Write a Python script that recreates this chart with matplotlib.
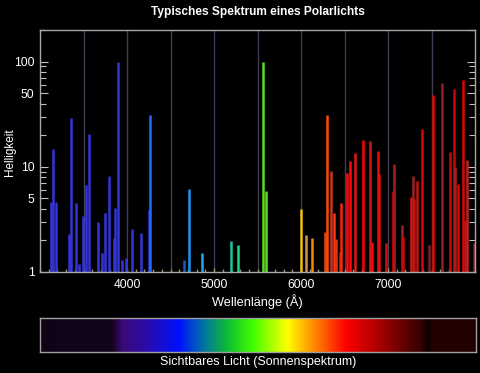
import matplotlib
matplotlib.use("Agg")
import matplotlib.pyplot as plt
import numpy as np
from matplotlib.colors import LinearSegmentedColormap
from matplotlib.ticker import FixedLocator, NullFormatter, MultipleLocator

plt.rcParams['font.family'] = ['Liberation Sans', 'DejaVu Sans']

# ---- data ----
wavelengths = [3127, 3145, 3184, 3337, 3357, 3414, 3452, 3490, 3530, 3568,
               3671, 3709, 3748, 3790, 3847, 3867, 3901, 3944, 3985, 4059,
               4163, 4250, 4266,
               4650, 4711, 4857, 5199, 5272, 5563, 5602, 6005, 6063, 6127,
               6281, 6300, 6350, 6377, 6408, 6446, 6465, 6534, 6561, 6619,
               6707, 6791, 6818, 6880, 6895, 6975, 7053, 7068, 7156, 7175,
               7260, 7283, 7298, 7329, 7393, 7474, 7513, 7624, 7712, 7758,
               7770, 7808, 7859, 7885, 7905, 7989]
intensities = [4.6, 14.9, 4.6, 2.3, 29.4, 4.5, 1.2, 3.4, 6.7, 20.7,
               3.0, 1.5, 3.6, 8.1, 2.1, 4.1, 100, 1.3, 1.37, 2.56,
               2.34, 3.9, 30.9,
               1.31, 6.1, 1.5, 1.96, 1.82, 100, 5.95, 3.94, 2.23, 2.1,
               2.4, 30.9, 9.1, 3.6, 2.07, 1.54, 4.5, 8.7, 11.3, 13.4,
               18.1, 17.6, 1.92, 14.1, 8.6, 1.88, 5.95, 10.7, 2.77, 2.15,
               5.15, 8.2, 4.97, 7.3, 23.1, 1.81, 48, 63, 13.8, 54.5,
               9.9, 6.8, 67.5, 3.1, 11.5, 1.88]
line_colors = (['#3434d8'] * 22 + ['#2468ff'] +
               ['#1a5cc0', '#1c94f0', '#20a8e8', '#14c8a0', '#18d888',
                '#58e020', '#60d830', '#f0c000', '#d09050', '#ff8400'] +
               ['#e04418', '#ff4800', '#c83420', '#ff3410', '#e03410', '#b03020',
                '#ff2410', '#ff0c0c', '#ff0c0c', '#e81414', '#ff0404', '#d01818',
                '#ff0404', '#ff0404', '#e01010', '#d01010', '#e00404', '#a02020',
                '#a02020', '#d00404', '#e01010', '#a02020', '#c81010', '#c01414',
                '#e00404', '#802020', '#e00404', '#902020', '#d00404', '#d00404',
                '#a02020', '#e00404', '#e00404', '#c01010', '#c02020', '#902020'])

x_ticks = [4000, 5000, 6000, 7000]
y_ticks = [1, 5, 10, 50, 100]
grid_lines = [3500, 4000, 4500, 5000, 5500, 6000, 6500, 7000, 7500]

# visible spectrum colour bar stops (fraction of bar width, colour)
spec_pos = [0.0, 0.163, 0.19, 0.24, 0.319, 0.372, 0.433, 0.488, 0.568,
            0.617, 0.702, 0.80, 0.878, 0.893, 0.899, 1.0]
spec_col = ['#0e0418', '#12041c', '#3c0a78', '#2c0ca8', '#0010ff', '#0070a8',
            '#10c030', '#40ff00', '#ffff00', '#ffa000', '#ff0000', '#900000',
            '#300000', '#000000', '#220000', '#220000']

# ---- figure ----
fig = plt.figure(figsize=(4.8, 3.73), dpi=100, facecolor='black')
ax = fig.add_axes([40/480, 1-272/373, 435/480, 242/373], facecolor='black')

for g in grid_lines:
    ax.axvline(g, color='#403c52', lw=1.0, zorder=1)

ax.vlines(wavelengths, 1, intensities, colors=line_colors, lw=1.8, zorder=2)

ax.set_yscale('log')
ax.set_xlim(3000, 8000)
ax.set_ylim(1, 200)
ax.yaxis.set_major_locator(FixedLocator(y_ticks))
ax.yaxis.set_major_formatter(plt.FixedFormatter([str(t) for t in y_ticks]))
ax.yaxis.set_minor_locator(FixedLocator([2, 3, 4, 6, 7, 8, 9, 20, 30, 40, 60, 70, 80, 90, 200]))
ax.yaxis.set_minor_formatter(NullFormatter())
ax.set_xticks(x_ticks)
ax.set_xticklabels([str(t) for t in x_ticks])
ax.xaxis.set_minor_locator(MultipleLocator(100))

ax.tick_params(axis='y', which='both', direction='in', colors='#c0c0c0',
               labelcolor='white', labelsize=8.7, right=True, left=True)
ax.tick_params(axis='y', which='major', length=6, width=0.8, pad=4)
ax.tick_params(axis='y', which='minor', length=4, width=0.8)
ax.tick_params(axis='x', which='both', direction='in', colors='#a09070',
               labelcolor='white', labelsize=8.7)
ax.tick_params(axis='x', which='major', length=3, width=1, pad=5)
ax.tick_params(axis='x', which='minor', length=2, width=1)
for s in ax.spines.values():
    s.set_color('#a8a8a8')
    s.set_linewidth(1.0)

ax.set_title('Typisches Spektrum eines Polarlichts', color='white',
             fontsize=8.6, fontweight='bold', pad=11)
ax.set_xlabel('Wellenlänge (Å)', color='white', fontsize=9.2, labelpad=2)
fig.text(10/480, 1-152/373, 'Helligkeit', color='white', fontsize=8.5,
         rotation=90, ha='center', va='center')

# colour bar
cax = fig.add_axes([40/480, 1-352/373, 436/480, 34/373], facecolor='black')
cmap = LinearSegmentedColormap.from_list('spec', list(zip(spec_pos, spec_col)))
cax.imshow(np.linspace(0, 1, 512)[None, :], aspect='auto', cmap=cmap,
           extent=[0, 1, 0, 1])
cax.set_xticks([])
cax.set_yticks([])
for s in cax.spines.values():
    s.set_color('#a0a0a0')
    s.set_linewidth(1.0)
cax.set_xlabel('Sichtbares Licht (Sonnenspektrum)', color='white',
               fontsize=9, labelpad=3)

fig.savefig('out.png', dpi=100, facecolor='black')
